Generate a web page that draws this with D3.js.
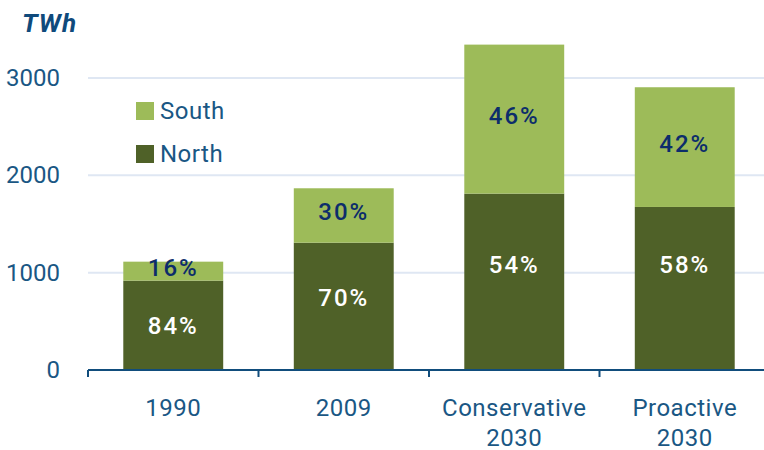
<!DOCTYPE html>
<html><head><meta charset="utf-8">
<script src="https://cdn.jsdelivr.net/npm/d3@7"></script>
<style>
html,body{margin:0;padding:0;background:#fff;}
svg{display:block;font-family:Roboto,"DejaVu Sans",sans-serif;}
</style></head>
<body><svg id="c" width="764" height="450"></svg>
<script>
const categories = [["1990"], ["2009"], ["Conservative", "2030"], ["Proactive", "2030"]];
const north = [918, 1308, 1812, 1675];
const south = [195, 559, 1531, 1230];
const northPct = ["84%", "70%", "54%", "58%"];
const southPct = ["16%", "30%", "46%", "42%"];
const northLabelAt = [452, 740, 1080, 1080];
const yTicks = [0, 1000, 2000, 3000];
const seriesNames = ["South", "North"];

const colors = {South: "#9dbb59", North: "#4f6128"};
const svg = d3.select("#c");
const keys = categories.map(c => c.join(" "));
const x = d3.scaleBand().domain(keys).range([88, 770]).paddingInner(0.414).paddingOuter(0.207);
const y = d3.scaleLinear().domain([0, 3000]).range([370, 78]);

// gridlines
svg.append("g").selectAll("line").data(yTicks.filter(d => d > 0)).join("line")
  .attr("x1", 88).attr("x2", 764).attr("y1", d => y(d)).attr("y2", d => y(d))
  .attr("stroke", "#dfe7f3").attr("stroke-width", 2);

// y tick labels
svg.append("g").selectAll("text").data(yTicks).join("text")
  .attr("x", 60).attr("y", d => y(d)).attr("text-anchor", "end").attr("dominant-baseline", "central")
  .attr("fill", "#1a5784").attr("font-size", 24).text(d => d);

// unit
svg.append("text").attr("x", 22).attr("y", 32).attr("fill", "#0f4a7c")
  .attr("font-size", 26).attr("font-weight", "bold").attr("font-style", "italic").attr("letter-spacing", 1).text("TWh");

// stacked bars
const stackData = keys.map((k, i) => ({key: k, North: north[i], South: south[i]}));
const stacked = d3.stack().keys(["North", "South"])(stackData);
svg.append("g").selectAll("g").data(stacked).join("g")
  .attr("fill", d => colors[d.key])
  .selectAll("rect").data(d => d).join("rect")
  .attr("x", d => x(d.data.key)).attr("width", x.bandwidth())
  .attr("y", d => y(d[1])).attr("height", d => y(d[0]) - y(d[1]));

// x axis
svg.append("line").attr("x1", 88).attr("x2", 764).attr("y1", 370).attr("y2", 370)
  .attr("stroke", "#114d7c").attr("stroke-width", 2);
const bounds = d3.range(keys.length).map(i => x.range()[0] + i * x.step());
svg.append("g").selectAll("line").data(bounds).join("line")
  .attr("x1", d => d).attr("x2", d => d).attr("y1", 370).attr("y2", 377)
  .attr("stroke", "#114d7c").attr("stroke-width", 2);

const xl = svg.append("g").selectAll("text").data(categories).join("text")
  .attr("text-anchor", "middle").attr("fill", "#1a5784").attr("font-size", 24)
  .attr("x", (d, i) => x(keys[i]) + x.bandwidth() / 2);
xl.selectAll("tspan").data(d => d).join("tspan")
  .attr("x", function() { return this.parentNode.getAttribute("x"); })
  .attr("y", (d, j) => 408 + j * 30).attr("dominant-baseline", "central")
  .attr("letter-spacing", 0.5).text(d => d);

// percent labels
svg.append("g").selectAll("text").data(keys).join("text")
  .attr("x", d => x(d) + x.bandwidth() / 2)
  .attr("y", (d, i) => y(north[i] + south[i] / 2) - 3)
  .attr("text-anchor", "middle").attr("dominant-baseline", "central")
  .attr("fill", "#0c2d6b").attr("font-size", 24).attr("font-weight", 500).attr("letter-spacing", 2)
  .text((d, i) => southPct[i]);
svg.append("g").selectAll("text").data(keys).join("text")
  .attr("x", d => x(d) + x.bandwidth() / 2)
  .attr("y", (d, i) => y(northLabelAt[i]))
  .attr("text-anchor", "middle").attr("dominant-baseline", "central")
  .attr("fill", "#ffffff").attr("font-size", 24).attr("font-weight", 500).attr("letter-spacing", 2)
  .text((d, i) => northPct[i]);

// legend
const lg = svg.append("g").selectAll("g").data(seriesNames).join("g")
  .attr("transform", (d, i) => `translate(136,${102 + i * 43})`);
lg.append("rect").attr("width", 18).attr("height", 18).attr("fill", d => colors[d]);
lg.append("text").attr("x", 24).attr("y", 9).attr("dominant-baseline", "central")
  .attr("fill", "#1a5784").attr("font-size", 24).attr("letter-spacing", 0.5).text(d => d);
</script></body></html>
